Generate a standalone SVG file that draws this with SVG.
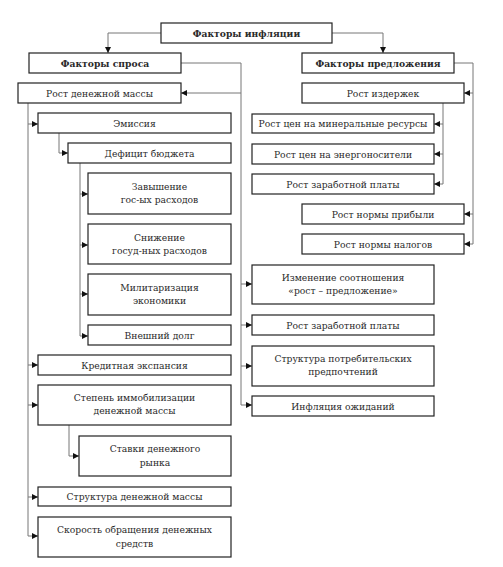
<svg xmlns="http://www.w3.org/2000/svg" width="503" height="567" viewBox="0 0 503 567" font-family="DejaVu Serif, serif">
<style>
rect{fill:#fff;stroke:#222;stroke-width:1.2}
text{font-size:9.2px;fill:#2a2a2a;text-anchor:middle}
.b{font-weight:bold}
.c{fill:none;stroke:#777;stroke-width:1}
</style>
<defs>
<marker id="a" markerUnits="userSpaceOnUse" markerWidth="6" markerHeight="6" refX="6" refY="3" orient="auto"><path d="M0,0L6,3L0,6z" fill="#111"/></marker>
</defs>
<rect width="503" height="567" style="fill:#fff;stroke:none"/>
<g id="connectors" class="c">
<path class="c" d="M161,33H108V53" marker-end="url(#a)"/>
<path class="c" d="M332,33H383V53" marker-end="url(#a)"/>
<path class="c" d="M181,63H241V405"/>
<path class="c" d="M241,93H181" marker-end="url(#a)"/>
<path class="c" d="M241,284H252" marker-end="url(#a)"/>
<path class="c" d="M241,325H252" marker-end="url(#a)"/>
<path class="c" d="M241,366H252" marker-end="url(#a)"/>
<path class="c" d="M241,405H252" marker-end="url(#a)"/>
<path class="c" d="M454,63H473V244"/>
<path class="c" d="M473,93H464" marker-end="url(#a)"/>
<path class="c" d="M473,214H464" marker-end="url(#a)"/>
<path class="c" d="M473,244H464" marker-end="url(#a)"/>
<path class="c" d="M443,103V184"/>
<path class="c" d="M443,124H434" marker-end="url(#a)"/>
<path class="c" d="M443,154H434" marker-end="url(#a)"/>
<path class="c" d="M443,184H434" marker-end="url(#a)"/>
<path class="c" d="M28,103V536"/>
<path class="c" d="M28,124H38" marker-end="url(#a)"/>
<path class="c" d="M28,365H38" marker-end="url(#a)"/>
<path class="c" d="M28,405H38" marker-end="url(#a)"/>
<path class="c" d="M28,497H38" marker-end="url(#a)"/>
<path class="c" d="M28,536H38" marker-end="url(#a)"/>
<path class="c" d="M59,133V153H68" marker-end="url(#a)"/>
<path class="c" d="M80,163V336"/>
<path class="c" d="M80,194H88" marker-end="url(#a)"/>
<path class="c" d="M80,245H88" marker-end="url(#a)"/>
<path class="c" d="M80,294H88" marker-end="url(#a)"/>
<path class="c" d="M80,336H88" marker-end="url(#a)"/>
<path class="c" d="M69,425V456H79" marker-end="url(#a)"/>
</g>
<g id="n-infl"><rect x="161" y="23" width="171" height="20"/><text class="b" x="246.5" y="37">Факторы инфляции</text></g>
<g id="n-demand"><rect x="29" y="53" width="152" height="20"/><text class="b" x="105" y="67">Факторы спроса</text></g>
<g id="n-supply"><rect x="302" y="53" width="152" height="20"/><text class="b" x="378" y="67">Факторы предложения</text></g>
<g id="n-money"><rect x="18" y="83" width="163" height="20"/><text x="99.5" y="97">Рост денежной массы</text></g>
<g id="n-costs"><rect x="302" y="83" width="162" height="20"/><text x="383" y="97">Рост издержек</text></g>
<g id="n-emission"><rect x="38" y="113" width="193" height="20"/><text x="134.5" y="127">Эмиссия</text></g>
<g id="n-deficit"><rect x="68" y="143" width="163" height="20"/><text x="149.5" y="157">Дефицит бюджета</text></g>
<g id="n-over"><rect x="88" y="173" width="143" height="41"/><text x="159.5" y="190">Завышение</text><text x="159.5" y="203">гос-ых расходов</text></g>
<g id="n-cut"><rect x="88" y="224" width="143" height="40"/><text x="159.5" y="241">Снижение</text><text x="159.5" y="254">госуд-ных расходов</text></g>
<g id="n-mil"><rect x="88" y="274" width="143" height="41"/><text x="159.5" y="291">Милитаризация</text><text x="159.5" y="304">экономики</text></g>
<g id="n-debt"><rect x="88" y="325" width="143" height="20"/><text x="159.5" y="339">Внешний долг</text></g>
<g id="n-credit"><rect x="38" y="355" width="193" height="20"/><text x="134.5" y="369">Кредитная экспансия</text></g>
<g id="n-immob"><rect x="38" y="385" width="193" height="40"/><text x="134.5" y="401">Степень иммобилизации</text><text x="134.5" y="414">денежной массы</text></g>
<g id="n-rates"><rect x="79" y="436" width="152" height="40"/><text x="155" y="452">Ставки денежного</text><text x="155" y="466">рынка</text></g>
<g id="n-struct"><rect x="38" y="487" width="193" height="19"/><text x="134.5" y="500">Структура денежной массы</text></g>
<g id="n-speed"><rect x="38" y="517" width="193" height="40"/><text x="134.5" y="533">Скорость обращения денежных</text><text x="134.5" y="547">средств</text></g>
<g id="n-mineral"><rect x="252" y="114" width="182" height="19"/><text x="343" y="127">Рост цен на минеральные ресурсы</text></g>
<g id="n-energy"><rect x="252" y="144" width="182" height="20"/><text x="343" y="158">Рост цен на энергоносители</text></g>
<g id="n-wage1"><rect x="252" y="174" width="182" height="20"/><text x="343" y="188">Рост заработной платы</text></g>
<g id="n-profit"><rect x="302" y="204" width="162" height="20"/><text x="383" y="218">Рост нормы прибыли</text></g>
<g id="n-tax"><rect x="302" y="234" width="162" height="20"/><text x="383" y="248">Рост нормы налогов</text></g>
<g id="n-ratio"><rect x="252" y="265" width="182" height="39"/><text x="343" y="281">Изменение соотношения</text><text x="343" y="294">«рост – предложение»</text></g>
<g id="n-wage2"><rect x="252" y="315" width="182" height="20"/><text x="343" y="329">Рост заработной платы</text></g>
<g id="n-pref"><rect x="252" y="346" width="182" height="40"/><text x="343" y="362">Структура потребительских</text><text x="343" y="375">предпочтений</text></g>
<g id="n-expect"><rect x="252" y="396" width="182" height="20"/><text x="343" y="410">Инфляция ожиданий</text></g>
</svg>
